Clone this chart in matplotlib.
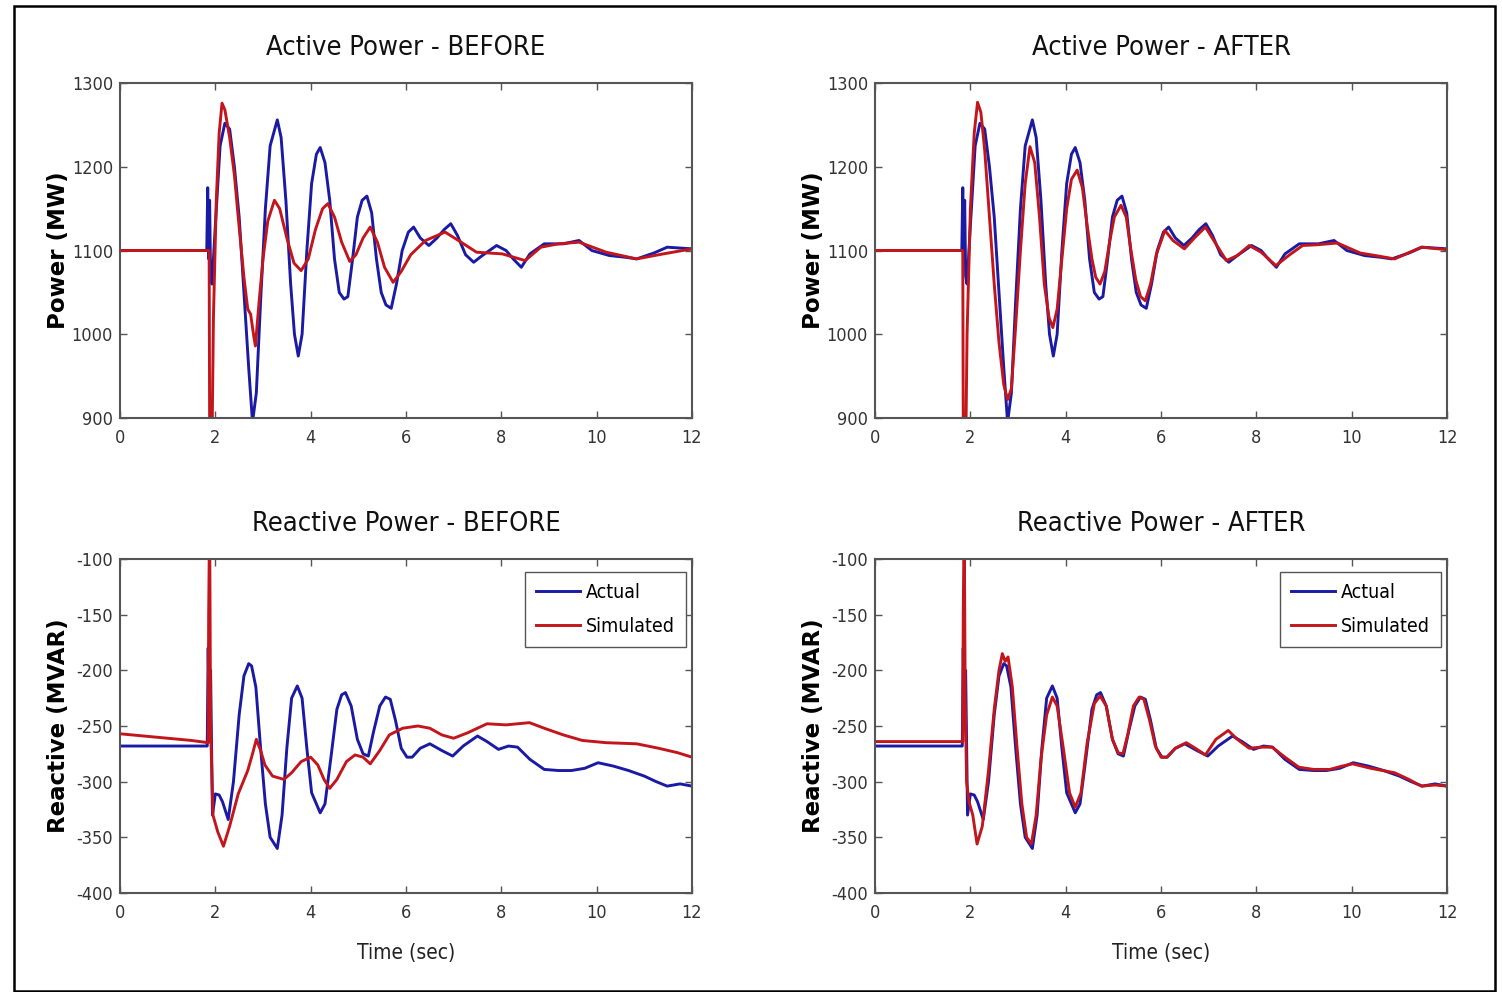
import matplotlib
matplotlib.use("Agg")
import matplotlib.pyplot as plt
from matplotlib.patches import Rectangle

# arvot luettu kuvasta silmämääräisesti
# --- pätöteho (MW), mitattu ---
t_p_act = [0, 1.82, 1.84, 1.86, 1.88, 1.9, 1.93, 2.0, 2.1, 2.2, 2.3, 2.4, 2.5, 2.6, 2.7,
           2.78, 2.86, 2.95, 3.05, 3.15, 3.3, 3.38, 3.48, 3.58, 3.66, 3.74, 3.82, 3.92,
           4.02, 4.12, 4.2, 4.3, 4.4, 4.5, 4.6, 4.7, 4.78, 4.88, 4.98, 5.08, 5.18, 5.28,
           5.38, 5.48, 5.58, 5.69, 5.8, 5.92, 6.05, 6.16, 6.3, 6.48, 6.65, 6.8, 6.94,
           7.08, 7.25, 7.42, 7.6, 7.9, 8.1, 8.25, 8.42, 8.6, 8.9, 9.3, 9.63, 9.9, 10.27,
           10.6, 10.84, 11.2, 11.48, 12]
p_act = [1100, 1100, 1175, 1090, 1160, 1070, 1060, 1130, 1225, 1252, 1245, 1200, 1140,
         1050, 960, 895, 930, 1040, 1150, 1225, 1256, 1235, 1160, 1060, 1000, 974, 1000,
         1100, 1180, 1215, 1223, 1205, 1160, 1090, 1050, 1042, 1045, 1090, 1140, 1160,
         1165, 1145, 1090, 1050, 1035, 1031, 1060, 1100, 1122, 1128, 1115, 1106, 1115,
         1125, 1132, 1118, 1095, 1086, 1094, 1106, 1100, 1090, 1080, 1096, 1108, 1108,
         1112, 1100, 1094, 1092, 1090, 1097, 1104, 1102]

# --- pätöteho, simuloitu ennen ---
t_p_before = [0, 1.87, 1.89, 1.92, 1.96, 2.02, 2.08, 2.14, 2.2, 2.3, 2.4, 2.48, 2.6, 2.68,
              2.74, 2.8, 2.84, 2.92, 3.0, 3.1, 3.24, 3.35, 3.5, 3.65, 3.8, 3.95, 4.1, 4.25,
              4.36, 4.5, 4.65, 4.82, 4.95, 5.1, 5.25, 5.4, 5.55, 5.73, 5.9, 6.1, 6.41, 6.82,
              7.1, 7.48, 8.02, 8.5, 8.83, 9.2, 9.63, 10.2, 10.84, 11.4, 12]
p_before = [1100, 1100, 700, 820, 1020, 1160, 1240, 1276, 1268, 1235, 1190, 1140, 1068,
            1030, 1024, 1000, 986, 1040, 1090, 1135, 1160, 1150, 1115, 1085, 1076, 1090,
            1125, 1150, 1156, 1140, 1110, 1087, 1095, 1115, 1128, 1110, 1080, 1062, 1075,
            1095, 1112, 1122, 1112, 1098, 1096, 1088, 1104, 1108, 1110, 1098, 1090, 1096,
            1102]

# --- pätöteho, simuloitu jälkeen ---
t_p_after = [0, 1.84, 1.86, 1.89, 1.93, 2.0, 2.08, 2.15, 2.22, 2.3, 2.4, 2.5, 2.6, 2.7,
             2.78, 2.86, 2.95, 3.05, 3.15, 3.25, 3.35, 3.45, 3.55, 3.65, 3.73, 3.82, 3.92,
             4.02, 4.12, 4.24, 4.35, 4.45, 4.55, 4.63, 4.72, 4.82, 4.92, 5.02, 5.16, 5.27,
             5.37, 5.47, 5.57, 5.67, 5.78, 5.9, 6.08, 6.25, 6.49, 6.7, 6.93, 7.15, 7.37,
             7.6, 7.85, 8.1, 8.41, 8.7, 8.97, 9.3, 9.7, 10.18, 10.5, 10.9, 11.46, 12]
p_after = [1100, 1100, 700, 800, 1000, 1150, 1240, 1277, 1265, 1220, 1140, 1060, 990, 940,
           922, 935, 1010, 1100, 1180, 1224, 1205, 1140, 1060, 1020, 1008, 1030, 1090,
           1150, 1185, 1196, 1175, 1130, 1090, 1068, 1060, 1075, 1110, 1140, 1154, 1140,
           1100, 1065, 1045, 1040, 1060, 1095, 1124, 1112, 1102, 1115, 1128, 1108, 1088,
           1094, 1106, 1098, 1082, 1095, 1106, 1107, 1109, 1097, 1094, 1090, 1104, 1101]

# --- loisteho (MVAR), mitattu ---
t_q_act = [0, 1.83, 1.85, 1.87, 1.9, 1.94, 2.0, 2.08, 2.15, 2.27, 2.38, 2.5, 2.6, 2.7,
           2.76, 2.85, 2.95, 3.05, 3.15, 3.3, 3.4, 3.5, 3.6, 3.72, 3.82, 3.92, 4.02, 4.2,
           4.3, 4.42, 4.55, 4.65, 4.73, 4.85, 4.98, 5.1, 5.21, 5.32, 5.45, 5.57, 5.67,
           5.78, 5.9, 6.02, 6.13, 6.3, 6.5, 6.75, 6.98, 7.2, 7.5, 7.7, 7.94, 8.15, 8.34,
           8.6, 8.9, 9.2, 9.47, 9.75, 10.03, 10.35, 10.67, 11.0, 11.25, 11.48, 11.75, 12]
q_act = [-268, -268, -180, -250, -200, -330, -311, -312, -318, -334, -300, -240, -205,
         -194, -196, -215, -270, -320, -350, -360, -330, -270, -225, -214, -225, -270,
         -310, -328, -320, -280, -235, -222, -220, -232, -262, -275, -277, -255, -232,
         -224, -226, -245, -270, -278, -278, -270, -266, -272, -277, -268, -259, -264,
         -271, -268, -269, -280, -289, -290, -290, -288, -283, -286, -290, -295, -300,
         -304, -302, -304]

# --- loisteho, simuloitu ennen ---
t_q_before = [0, 0.5, 1.0, 1.5, 1.85, 1.86, 1.88, 1.9, 1.95, 2.05, 2.17, 2.3, 2.48, 2.68,
              2.78, 2.86, 2.95, 3.04, 3.2, 3.44, 3.6, 3.8, 4.0, 4.15, 4.28, 4.4, 4.55,
              4.75, 4.93, 5.1, 5.25, 5.45, 5.65, 5.93, 6.25, 6.5, 6.75, 7.0, 7.3, 7.7, 8.1,
              8.59, 8.9, 9.3, 9.7, 10.2, 10.84, 11.3, 11.7, 12]
q_before = [-257, -259, -261, -263, -265, -150, -60, -250, -330, -345, -358, -340, -311,
            -290, -275, -262, -272, -285, -295, -298, -292, -282, -278, -285, -298, -306,
            -298, -282, -276, -278, -284, -272, -258, -252, -250, -252, -258, -261, -256,
            -248, -249, -247, -252, -258, -263, -265, -266, -270, -274, -278]

# --- loisteho, simuloitu jälkeen ---
t_q_after = [0, 1.84, 1.85, 1.87, 1.89, 1.92, 1.97, 2.05, 2.14, 2.25, 2.38, 2.5, 2.6,
             2.67, 2.73, 2.79, 2.88, 2.98, 3.08, 3.18, 3.28, 3.38, 3.48, 3.6, 3.72, 3.82,
             3.95, 4.08, 4.2, 4.32, 4.45, 4.6, 4.72, 4.85, 4.98, 5.1, 5.2, 5.3, 5.42, 5.54,
             5.64, 5.76, 5.88, 6.0, 6.12, 6.3, 6.53, 6.72, 6.93, 7.15, 7.41, 7.6, 7.85,
             8.1, 8.33, 8.6, 8.89, 9.2, 9.54, 9.8, 10.02, 10.4, 10.9, 11.2, 11.46, 11.75, 12]
q_after = [-264, -264, -150, -60, -220, -300, -318, -330, -356, -340, -290, -235, -200,
           -185, -192, -188, -215, -270, -320, -350, -356, -330, -280, -240, -224, -232,
           -270, -310, -323, -310, -265, -230, -223, -232, -262, -274, -275, -258, -232,
           -224, -226, -245, -268, -278, -278, -270, -265, -270, -276, -262, -254, -262,
           -270, -269, -269, -278, -287, -289, -289, -286, -284, -288, -292, -298, -304,
           -303, -304]

otsikot = ["Active Power - BEFORE", "Active Power - AFTER",
           "Reactive Power - BEFORE", "Reactive Power - AFTER"]
x_ticks = [0, 2, 4, 6, 8, 10, 12]
p_ticks = [900, 1000, 1100, 1200, 1300]
q_ticks = [-400, -350, -300, -250, -200, -150, -100]

SININEN = '#1a1aa4'
PUNAINEN = '#c2161c'
HARMAA = '#555555'

plt.rcParams['axes.unicode_minus'] = False
plt.rcParams['font.family'] = ['DejaVu Sans']
plt.rcParams['font.stretch'] = 'condensed'

fig = plt.figure(figsize=(15.02, 9.92), dpi=100)
paikat = [[0.0799, 0.5786, 0.3808, 0.3377], [0.5826, 0.5786, 0.3808, 0.3377],
          [0.0799, 0.0998, 0.3808, 0.3367], [0.5826, 0.0998, 0.3808, 0.3367]]
sarjat = [(t_p_act, p_act, t_p_before, p_before), (t_p_act, p_act, t_p_after, p_after),
          (t_q_act, q_act, t_q_before, q_before), (t_q_act, q_act, t_q_after, q_after)]

for i in range(4):
    ax = fig.add_axes(paikat[i])
    ta, ya, ts, ys = sarjat[i]
    ax.plot(ta, ya, color=SININEN, lw=2.1, label='Actual')
    ax.plot(ts, ys, color=PUNAINEN, lw=2.1, label='Simulated')
    ax.set_xlim(0, 12)
    ax.set_xticks(x_ticks)
    if i < 2:
        ax.set_ylim(900, 1300)
        ax.set_yticks(p_ticks)
        ax.set_ylabel('Power (MW)', fontweight='bold', fontsize=16.5, fontstretch='normal')
    else:
        ax.set_ylim(-400, -100)
        ax.set_yticks(q_ticks)
        ax.set_ylabel('Reactive (MVAR)', fontweight='bold', fontsize=16.5, fontstretch='normal')
        ax.set_xlabel('Time (sec)', fontsize=15, color='#222222')
        ax.xaxis.set_label_coords(0.5, -0.15)
        ax.legend(loc='upper right', bbox_to_anchor=(0.9895, 0.961), borderaxespad=0,
                  fancybox=False, edgecolor=HARMAA, fontsize=14, handlelength=2.3,
                  framealpha=1, borderpad=0.55, labelspacing=0.8, handletextpad=0.3)
    ax.yaxis.set_label_coords(-0.088, 0.5)
    ax.set_title(otsikot[i], fontsize=19.5, pad=20, color='#111111')
    ax.tick_params(direction='in', top=True, right=True, length=5, width=1,
                   color=HARMAA, labelcolor='#333333', labelsize=13)
    ax.tick_params(axis='x', pad=8)
    ax.tick_params(axis='y', pad=5)
    for s in ax.spines.values():
        s.set_color(HARMAA)
        s.set_linewidth(1.5)

# kehys koko kuvan ympäri
fig.patches.append(Rectangle((14 / 1502, 1 / 992), 1481 / 1502, 985 / 992,
                             transform=fig.transFigure, fill=False, lw=1.8, ec='k'))

fig.savefig('out.png', dpi=100)
